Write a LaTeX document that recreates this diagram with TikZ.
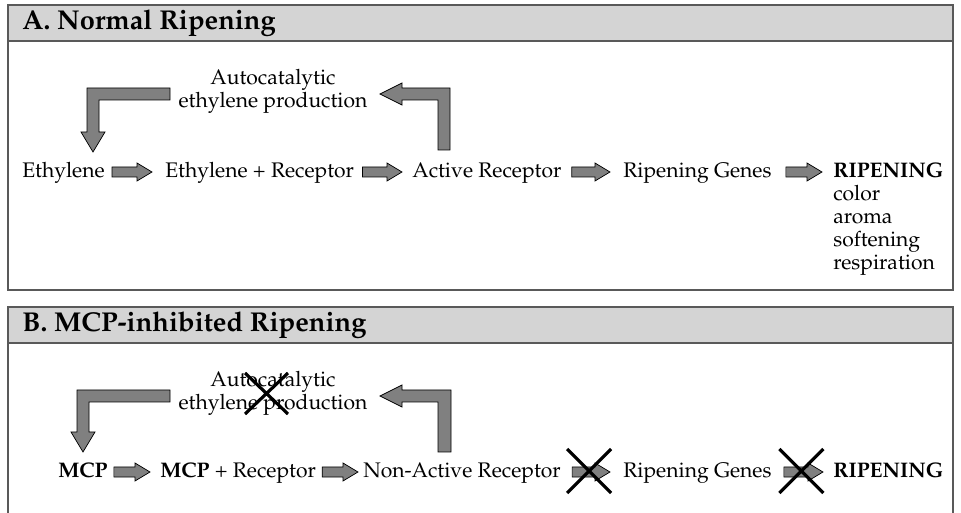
\documentclass[tikz,border=0pt]{standalone}
\usepackage[T1]{fontenc}
\usepackage{mathpazo}
\usetikzlibrary{calc}

\tikzset{
  frame/.style={draw=black!65, line width=0.6pt},
  header/.style={fill=black!17, draw=black!65, line width=0.6pt},
  txt/.style={inner sep=0pt, anchor=base west, font=\fontsize{12}{14}\selectfont},
  ttl/.style={inner sep=0pt, anchor=base west, font=\fontsize{15.5}{18}\selectfont\bfseries},
  blk/.style={draw=black, fill=black!50, line width=0.4pt, line join=miter},
  cross/.style={draw=black, line width=1.8pt}
}

% block arrow from node #1 to node #2, #3 gap after #1, #4 gap before #2
\newcommand{\blockarr}[4]{%
  \coordinate (bt) at ($(#1.base east)+(#3,-6)$);
  \coordinate (bh) at ($(#2.base west)+(-#4,-6)$);
  \draw[blk] ($(bt)+(0,-5)$) -- ($(bh)+(-15,-5)$) -- ($(bh)+(-15,-9)$) -- (bh)
    -- ($(bh)+(-15,9)$) -- ($(bh)+(-15,5)$) -- ($(bt)+(0,5)$) -- cycle;
}

\begin{document}
\begin{tikzpicture}[x=0.02cm, y=-0.02cm]
  \useasboundingbox (0,0) rectangle (961,513);
  \clip (0,0) rectangle (961,513);

  % panel A
  \draw[frame] (8,5) rectangle (953,290);
  \draw[header] (8,5) rectangle (953,41);
  \node[ttl] (ttlA) at (22,30) {A. Normal Ripening};

  \node[txt] (eth) at (22,178) {Ethylene};
  \node[txt] (ethrec) at (165,178) {Ethylene + Receptor};
  \node[txt] (act) at (412,178) {Active Receptor};
  \node[txt] (genA) at (623,178) {Ripening Genes};
  \node[txt] (ripA) at (833,178) {\bfseries RIPENING};
  \foreach \w [count=\i] in {color,aroma,softening,respiration}
    \node[txt] (attr\i) at (833,{178+23*\i}) {\w};

  \node[txt, anchor=base] (autoA1) at (273,85) {Autocatalytic};
  \node[txt, anchor=base] (autoA2) at (273,108) {ethylene production};

  \blockarr{eth}{ethrec}{7}{13}
  \blockarr{ethrec}{act}{8}{10}
  \blockarr{act}{genA}{10}{13}
  \blockarr{genA}{ripA}{14}{11}

  % feedback loop A
  \draw[blk] (170,88) -- (87,88) -- (87,132) -- (81,132) -- (93,152) -- (105,132) -- (99,132) -- (99,100) -- (170,100) -- cycle;
  \draw[blk] (438,150) -- (438,100) -- (402,100) -- (402,105) -- (380,94) -- (402,83) -- (402,88) -- (450,88) -- (450,150) -- cycle;

  % panel B
  \draw[frame] (8,520) -- (8,307) -- (953,307) -- (953,520);
  \draw[header] (8,307) rectangle (953,343);
  \node[ttl] (ttlB) at (22,332) {B. MCP-inhibited Ripening};

  \node[txt] (mcp) at (58,478) {\bfseries MCP};
  \node[txt] (mcprec) at (160,478) {\textbf{MCP} + Receptor};
  \node[txt] (nonact) at (363,478) {Non-Active Receptor};
  \node[txt] (genB) at (623,478) {Ripening Genes};
  \node[txt] (ripB) at (833,478) {\bfseries RIPENING};

  \node[txt, anchor=base] (autoB1) at (273,387) {Autocatalytic};
  \node[txt, anchor=base] (autoB2) at (273,410) {ethylene production};

  \blockarr{mcp}{mcprec}{6}{10}
  \blockarr{mcprec}{nonact}{6}{5}
  \blockarr{nonact}{genB}{11}{13}
  \draw[cross] ($(bt)!.5!(bh)+(-24,-23)$) -- ++(44,44) ++(0,-44) -- ++(-44,44);
  \blockarr{genB}{ripB}{12}{10}
  \draw[cross] ($(bt)!.5!(bh)+(-24,-23)$) -- ++(44,44) ++(0,-44) -- ++(-44,44);

  % feedback loop B
  \draw[blk] (170,390) -- (77,390) -- (77,432) -- (71,432) -- (83,452) -- (95,432) -- (89,432) -- (89,402) -- (170,402) -- cycle;
  \draw[blk] (438,452) -- (438,402) -- (402,402) -- (402,407) -- (380,396) -- (402,385) -- (402,390) -- (451,390) -- (451,452) -- cycle;
  \draw[cross] (245,373) -- (288,414) (245,414) -- (288,373);
\end{tikzpicture}
\end{document}
